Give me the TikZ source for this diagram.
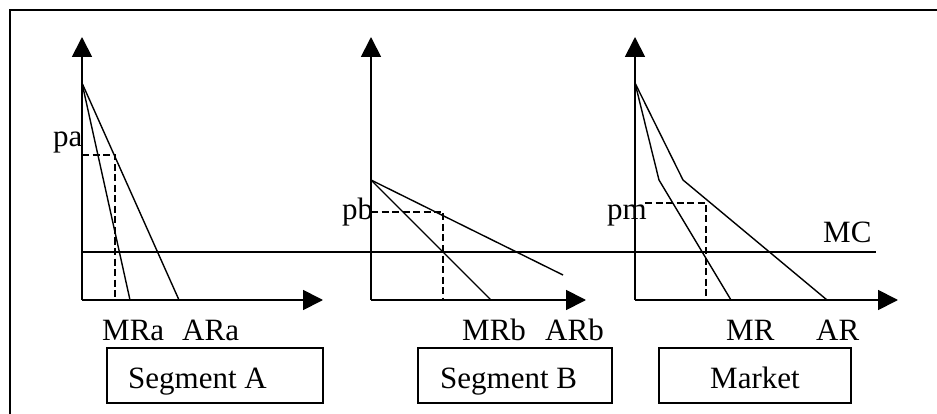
\documentclass[tikz,border=0pt]{standalone}
\usepackage{fontspec}
\setmainfont{Liberation Serif}
\usetikzlibrary{arrows.meta}
\begin{document}
\begin{tikzpicture}[x=1pt,y=-1pt,
  axis/.style={line width=1.8pt,-{Triangle[length=20pt,width=20pt]}},
  curve/.style={line width=1.4pt},
  guide/.style={line width=1.3pt,dash pattern=on 7pt off 3.5pt},
  lbl/.style={anchor=base west,inner sep=0pt,font=\fontsize{31}{34}\selectfont},
  segbox/.style={draw,line width=1.5pt}]
\useasboundingbox (0,0) rectangle (937,414);
\begin{scope}
\clip (0,0) rectangle (937,414);
\coordinate (fbl) at (10,430);
\coordinate (ftl) at (10,10);
\coordinate (ftr) at (950,10);
\draw[line width=1.6pt] (fbl) -- (ftl) -- (ftr);
\end{scope}

% ---- Panel A
\coordinate (oA) at (82,300);
\coordinate (yA) at (82,37);
\coordinate (xA) at (323,300);
\coordinate (tA) at (82,83);
\coordinate (mrA) at (130,300);
\coordinate (arA) at (179,300);
\coordinate (paL) at (82,155);
\coordinate (paP) at (115,155);
\coordinate (paQ) at (115,300);
% ---- Panel B
\coordinate (oB) at (371,300);
\coordinate (yB) at (371,37);
\coordinate (xB) at (586,300);
\coordinate (tB) at (371,180);
\coordinate (mrB) at (491,300);
\coordinate (arB) at (563,275);
\coordinate (pbL) at (371,212);
\coordinate (pbP) at (443,212);
\coordinate (pbQ) at (443,300);
% ---- Panel C
\coordinate (oC) at (635,300);
\coordinate (yC) at (635,37);
\coordinate (xC) at (898,300);
\coordinate (tC) at (635,83);
\coordinate (kmr) at (659,180);
\coordinate (mrC) at (731,300);
\coordinate (kar) at (683,180);
\coordinate (arC) at (827,300);
\coordinate (pmL) at (645,203);
\coordinate (pmP) at (706,203);
\coordinate (pmQ) at (706,300);
% ---- MC
\coordinate (mcL) at (82,252);
\coordinate (mcR) at (876,252);

% MC line
\draw[line width=1.3pt] (mcL) -- (mcR);

% axes
\draw[axis] (oA) -- (yA);
\draw[axis] (oA) -- (xA);
\draw[axis] (oB) -- (yB);
\draw[axis] (oB) -- (xB);
\draw[axis] (oC) -- (yC);
\draw[axis] (oC) -- (xC);

% curves
\draw[curve] (tA) -- (mrA);
\draw[curve] (tA) -- (arA);
\draw[curve] (tB) -- (mrB);
\draw[curve] (tB) -- (arB);
\draw[curve] (tC) -- (kmr) -- (mrC);
\draw[curve] (tC) -- (kar) -- (arC);

% guides
\draw[guide] (paL) -- (paP) -- (paQ);
\draw[guide] (pbL) -- (pbP) -- (pbQ);
\draw[guide] (pmL) -- (pmP) -- (pmQ);

% labels
\node[lbl] (pa) at (53,147) {pa};
\node[lbl] (pb) at (342,220) {pb};
\node[lbl] (pm) at (607,220) {pm};
\node[lbl] (mc) at (823,243) {MC};
\node[lbl] (lmra) at (102,340) {MRa};
\node[lbl] (lara) at (182,340) {ARa};
\node[lbl] (lmrb) at (462,340) {MRb};
\node[lbl] (larb) at (545,340) {ARb};
\node[lbl] (lmr) at (726,340) {MR};
\node[lbl] (lar) at (816,340) {AR};

% boxes
\draw[segbox] (107,348) rectangle (323,403);
\draw[segbox] (418,348) rectangle (612,403);
\draw[segbox] (659,348) rectangle (851,403);
\node[lbl] (sa) at (128,388) {Segment A};
\node[lbl] (sb) at (440,388) {Segment B};
\node[lbl] (mk) at (710,388) {Market};
\end{tikzpicture}
\end{document}
